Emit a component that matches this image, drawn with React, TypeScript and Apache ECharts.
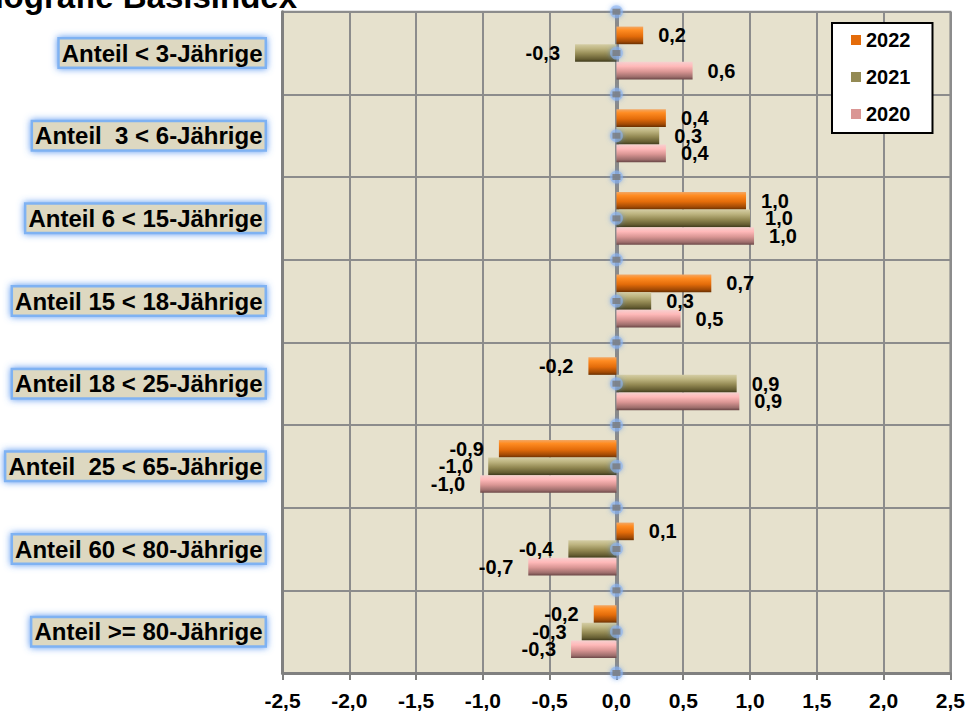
import React, { useEffect, useRef } from "react";
import * as echarts from "echarts";

// Age groups, top to bottom
const categories = [
  "Anteil < 3-Jährige",
  "Anteil  3 < 6-Jährige",
  "Anteil 6 < 15-Jährige",
  "Anteil 15 < 18-Jährige",
  "Anteil 18 < 25-Jährige",
  "Anteil  25 < 65-Jährige",
  "Anteil 60 < 80-Jährige",
  "Anteil >= 80-Jährige",
];

const values2022 = [0.2, 0.37, 0.97, 0.71, -0.21, -0.88, 0.13, -0.17];
const values2021 = [-0.31, 0.32, 1.0, 0.26, 0.9, -0.96, -0.36, -0.26];
const values2020 = [0.57, 0.37, 1.03, 0.48, 0.92, -1.02, -0.66, -0.34];

const xTicks = { min: -2.5, max: 2.5, interval: 0.5 };

// Handle marks along the zero line (half-category steps)
const handleSlots = [0, 1, 2, 3, 4, 5, 6, 7, 8, 9, 10, 11, 12, 13, 14, 15, 16];

const FONT = "'Liberation Sans', Arial, sans-serif";

const fmt = (v: number) => v.toFixed(1).replace(".", ",");

const cylinder = (stops: [number, string][]) =>
  new echarts.graphic.LinearGradient(
    0,
    0,
    0,
    1,
    stops.map(([offset, color]) => ({ offset, color }))
  );

const seriesDefs = [
  {
    name: "2022",
    values: values2022,
    flat: "#E46C0A",
    fill: cylinder([
      [0, "#F2A866"],
      [0.2, "#FF8C22"],
      [0.55, "#E46C0A"],
      [0.85, "#A24A05"],
      [1, "#6A3000"],
    ]),
  },
  {
    name: "2021",
    values: values2021,
    flat: "#948A54",
    fill: cylinder([
      [0, "#D4CDA4"],
      [0.25, "#BDB480"],
      [0.55, "#948A54"],
      [0.85, "#655D32"],
      [1, "#3E391C"],
    ]),
  },
  {
    name: "2020",
    values: values2020,
    flat: "#DA9694",
    fill: cylinder([
      [0, "#F7D0CF"],
      [0.25, "#FFB9B9"],
      [0.55, "#DA9694"],
      [0.85, "#9E6E6C"],
      [1, "#6A4646"],
    ]),
  },
];

export default function App() {
  const ref = useRef<HTMLDivElement>(null);

  useEffect(() => {
    if (!ref.current) return;
    const chart = echarts.init(ref.current, undefined, { renderer: "svg" });

    const barSeries = seriesDefs.map((s) => ({
      type: "bar",
      name: s.name,
      xAxisIndex: 0,
      yAxisIndex: 0,
      barGap: "0%",
      barCategoryGap: "36%",
      itemStyle: { color: s.fill },
      label: {
        show: true,
        distance: 15,
        fontFamily: FONT,
        fontSize: 20,
        fontWeight: "bold",
        color: "#000",
        formatter: (p: any) => fmt(p.value),
      },
      data: s.values.map((v) => ({
        value: v,
        label: { position: v < 0 ? "left" : "right" },
      })),
      z: 3,
    }));

    const handlePoints = handleSlots.map((s) => [0, s]);

    chart.setOption({
      animation: false,
      graphic: [
        {
          type: "text",
          right: 968 - 297,
          top: -20,
          style: {
            text: "Demografie Basisindex",
            font: `bold 33px ${FONT}`,
            fill: "#000",
          },
        },
      ],
      legend: {
        orient: "vertical",
        left: 832,
        top: 23,
        padding: [7, 22, 9, 19],
        itemWidth: 10,
        itemHeight: 10,
        itemGap: 17,
        backgroundColor: "#fff",
        borderColor: "#000",
        borderWidth: 2,
        icon: "rect",
        textStyle: {
          fontFamily: FONT,
          fontSize: 20,
          fontWeight: "bold",
          color: "#000",
        },
        data: seriesDefs.map((s) => ({
          name: s.name,
          itemStyle: { color: s.flat },
        })),
      },
      grid: {
        left: 282.5,
        right: 15.5,
        top: 11.7,
        bottom: 35.5,
        show: true,
        backgroundColor: "#E6E1CD",
        borderColor: "#8C8C8C",
        borderWidth: 2,
      },
      xAxis: {
        type: "value",
        min: xTicks.min,
        max: xTicks.max,
        interval: xTicks.interval,
        axisLine: {
          show: true,
          onZero: false,
          lineStyle: { color: "#808080", width: 3 },
        },
        axisTick: {
          show: true,
          length: 7,
          lineStyle: { color: "#808080", width: 2 },
        },
        splitLine: { show: true, lineStyle: { color: "#8C8C8C", width: 2 } },
        axisLabel: {
          margin: 17,
          fontFamily: FONT,
          fontSize: 21,
          fontWeight: "bold",
          color: "#000",
          formatter: (v: number) => fmt(v),
        },
      },
      yAxis: [
        {
          type: "category",
          inverse: true,
          position: "left",
          data: categories,
          axisLine: {
            show: true,
            onZero: false,
            lineStyle: { color: "#808080", width: 3 },
          },
          axisTick: { show: false },
          splitLine: { show: true, lineStyle: { color: "#8C8C8C", width: 2 } },
          axisLabel: {
            margin: 18,
            fontFamily: FONT,
            fontSize: 24,
            fontWeight: "bold",
            color: "#000",
            backgroundColor: "#DDD8C1",
            borderColor: "#7FB2F2",
            borderWidth: 2.5,
            padding: [2, 2, 1, 2],
            shadowColor: "rgba(80,145,240,0.95)",
            shadowBlur: 7,
          },
        },
        {
          type: "value",
          position: "right",
          inverse: true,
          min: 0,
          max: 16,
          axisLine: {
            show: true,
            onZero: true,
            lineStyle: { color: "#8A8A8A", width: 4 },
          },
          axisTick: { show: false },
          axisLabel: { show: false },
          splitLine: { show: false },
        },
      ],
      series: [
        ...barSeries,
        {
          type: "scatter",
          name: "handleGlow",
          xAxisIndex: 0,
          yAxisIndex: 1,
          symbol: "circle",
          symbolSize: 13,
          itemStyle: {
            color: "rgba(140,180,240,0.75)",
            shadowColor: "rgba(90,150,235,0.9)",
            shadowBlur: 5,
          },
          silent: true,
          z: 5,
          data: handlePoints,
        },
        {
          type: "scatter",
          name: "handles",
          xAxisIndex: 0,
          yAxisIndex: 1,
          symbol: "rect",
          symbolSize: [8, 6],
          itemStyle: { color: "#7A7A7A" },
          silent: true,
          z: 6,
          data: handlePoints,
        },
      ],
    });

    return () => chart.dispose();
  }, []);

  return (
    <div
      ref={ref}
      style={{ position: "absolute", left: 0, top: 0, width: 968, height: 711 }}
    />
  );
}
